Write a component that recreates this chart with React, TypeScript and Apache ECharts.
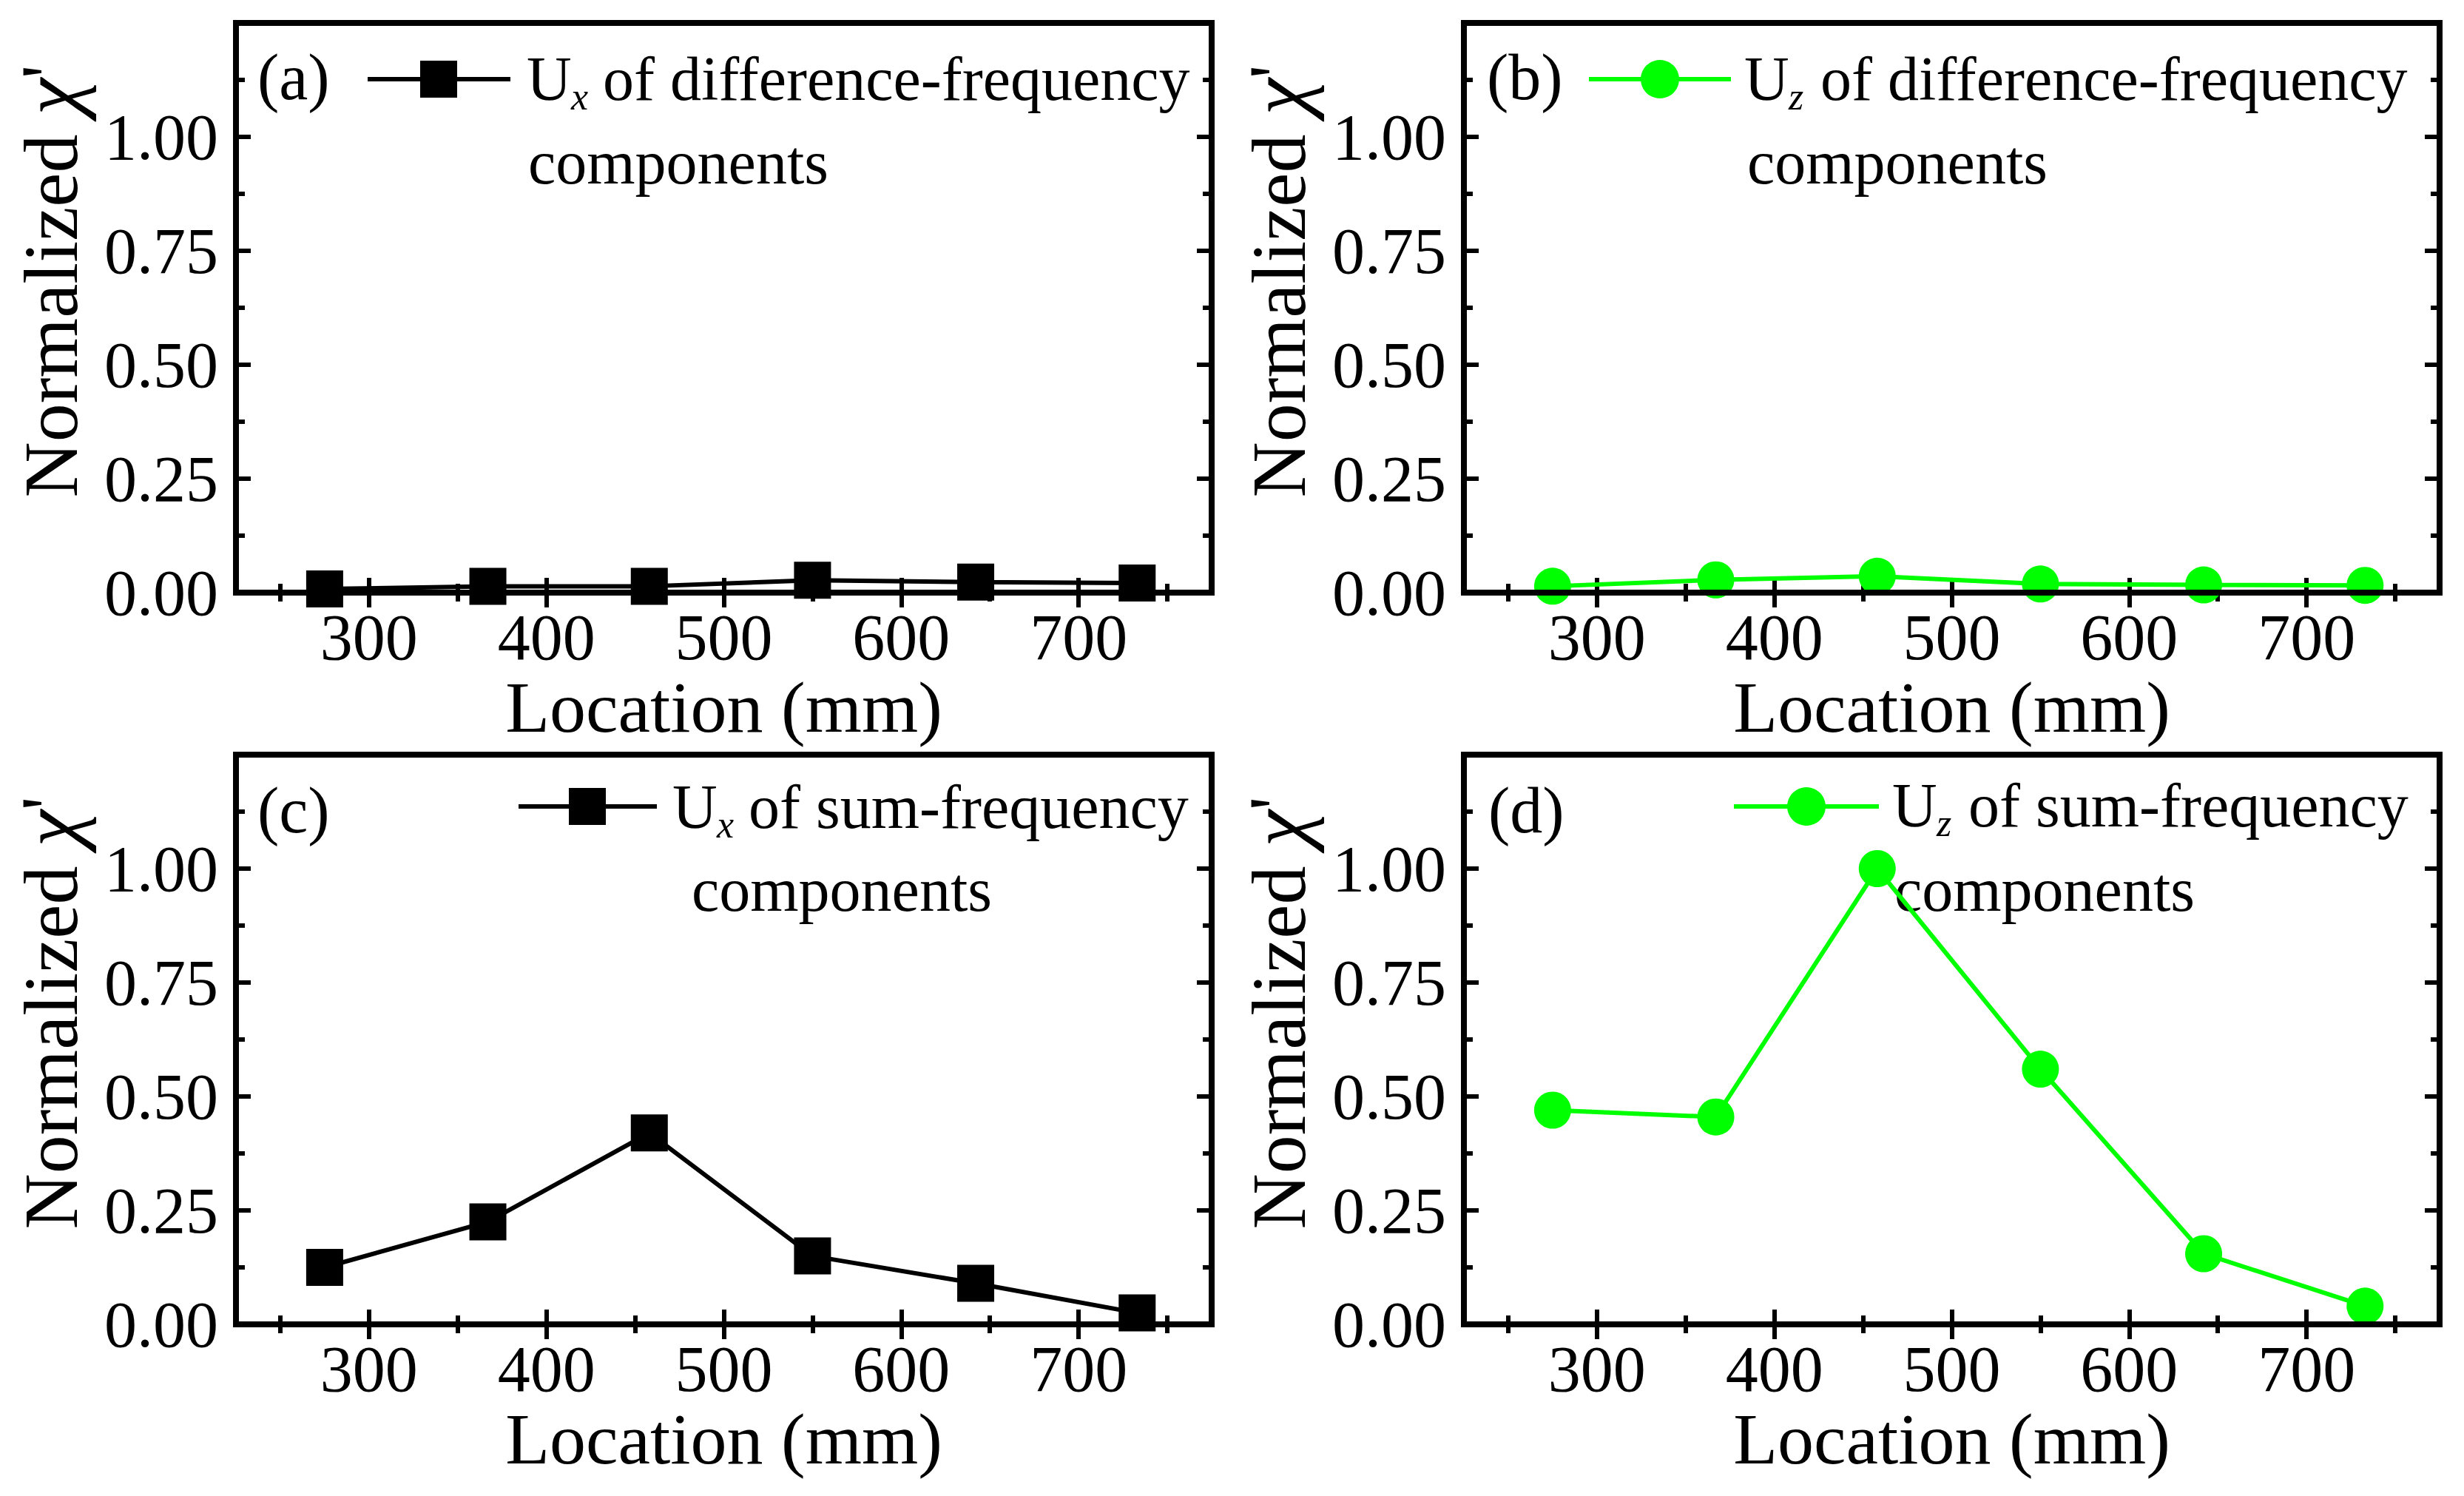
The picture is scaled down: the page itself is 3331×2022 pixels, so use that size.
import React, { useEffect, useRef } from "react";
import * as echarts from "echarts";

// ---- data ----
const locations = [275, 367, 458, 550, 642, 733];
const uxDifference = [0.008, 0.014, 0.014, 0.027, 0.023, 0.021];
const uzDifference = [0.014, 0.028, 0.036, 0.019, 0.017, 0.016];
const uxSum = [0.125, 0.225, 0.42, 0.15, 0.09, 0.025];
const uzSum = [0.47, 0.455, 1.0, 0.56, 0.155, 0.04];

const xMajorTicks = [300, 400, 500, 600, 700];
const xMinorTicks = [250, 350, 450, 550, 650, 750];
const yMajorTicks = [0, 0.25, 0.5, 0.75, 1.0];
const yMinorTicks = [0.125, 0.375, 0.625, 0.875, 1.125];

const panelLetters = ["(a)", "(b)", "(c)", "(d)"];
const componentLetters = ["x", "z", "x", "z"];
const legendRest = [
  " of difference-frequency",
  " of difference-frequency",
  " of sum-frequency",
  " of sum-frequency",
];
const legendSecond = ["components", "components", "components", "components"];
const xAxisTitle = "Location (mm)";

const BLACK = "#000000";
const GREEN = "#00ff00";
const FONT = "Liberation Serif";

const App: React.FC = () => {
  const ref = useRef<HTMLDivElement>(null);

  useEffect(() => {
    if (!ref.current) return;
    const chart = echarts.init(ref.current, undefined, { renderer: "svg" });

    const grids = [
      { left: 319, top: 31 },
      { left: 1979, top: 31 },
      { left: 319, top: 1020 },
      { left: 1979, top: 1020 },
    ];
    const W = 1319;
    const H = 770;
    const seriesData = [uxDifference, uzDifference, uxSum, uzSum];
    const colors = [BLACK, GREEN, BLACK, GREEN];
    const symbols = ["rect", "circle", "rect", "circle"];

    const xAxes: any[] = [];
    const yAxes: any[] = [];
    const series: any[] = [];
    const graphics: any[] = [];

    grids.forEach((g, i) => {
      const base = {
        gridIndex: i,
        type: "value",
        axisLine: { show: false },
        splitLine: { show: false },
        minorTick: { show: false },
      };
      const tickStyle = { color: BLACK, width: 6 };
      ["bottom", "top"].forEach((pos) => {
        xAxes.push({
          ...base,
          position: pos,
          min: 225,
          max: 775,
          axisTick: { show: true, inside: true, length: 20, lineStyle: tickStyle, customValues: xMajorTicks },
          axisLabel:
            pos === "bottom"
              ? {
                  show: true,
                  customValues: xMajorTicks,
                  fontSize: 88,
                  fontFamily: FONT,
                  color: BLACK,
                  margin: 16,
                }
              : { show: false },
          name: pos === "bottom" ? xAxisTitle : "",
          nameLocation: "middle",
          nameGap: 106,
          nameTextStyle: { fontSize: 98, fontFamily: FONT, color: BLACK },
        });
        xAxes.push({
          ...base,
          position: pos,
          min: 225,
          max: 775,
          axisTick: { show: true, inside: true, length: 12, lineStyle: tickStyle, customValues: xMinorTicks },
          axisLabel: { show: false },
        });
      });
      ["left", "right"].forEach((pos) => {
        yAxes.push({
          ...base,
          position: pos,
          min: 0,
          max: 1.25,
          axisTick: { show: true, inside: true, length: 20, lineStyle: tickStyle, customValues: yMajorTicks },
          axisLabel:
            pos === "left"
              ? {
                  show: true,
                  customValues: yMajorTicks,
                  formatter: (v: number) => v.toFixed(2),
                  fontSize: 88,
                  fontFamily: FONT,
                  color: BLACK,
                  margin: 24,
                }
              : { show: false },
        });
        yAxes.push({
          ...base,
          position: pos,
          min: 0,
          max: 1.25,
          axisTick: { show: true, inside: true, length: 12, lineStyle: tickStyle, customValues: yMinorTicks },
          axisLabel: { show: false },
        });
      });

      series.push({
        type: "line",
        xAxisIndex: i * 4,
        yAxisIndex: i * 4,
        data: locations.map((x, j) => [x, seriesData[i][j]]),
        symbol: symbols[i],
        symbolSize: 50,
        showSymbol: true,
        clip: false,
        lineStyle: { color: colors[i], width: 6 },
        itemStyle: { color: colors[i], borderWidth: 0 },
        z: 3,
      });

      const cy = g.top + H / 2 - 36;
      const cx = g.left - 251;
      graphics.push({
        type: "text",
        x: cx,
        y: cy,
        rotation: Math.PI / 2,
        style: {
          text: "{n|Normalized }{c|χ}{p|'}",
          textAlign: "center",
          textVerticalAlign: "middle",
          fill: BLACK,
          rich: {
            n: { fontSize: 104, fontFamily: FONT, fill: BLACK, color: BLACK },
            c: { fontSize: 112, fontFamily: FONT, fontStyle: "italic", fill: BLACK, color: BLACK },
            p: { fontSize: 104, fontFamily: FONT, fill: BLACK, color: BLACK, verticalAlign: "top" },
          },
        },
      });
    });

    const letterPos = [
      [348, 104],
      [2010, 104],
      [348, 1095],
      [2012, 1095],
    ];
    const legendLine = [
      [497, 690, 107],
      [2148, 2340, 107],
      [701, 888, 1090],
      [2344, 2540, 1090],
    ];
    const legendMarkerX = [593, 2244, 794, 2442];
    const legendTextX = [712, 2358, 909, 2558];
    const legendTextY = [106, 106, 1090, 1088];
    const legendSecondX = [714, 2362, 935, 2561];
    const legendSecondY = [219, 219, 1202, 1202];

    for (let i = 0; i < 4; i++) {
      graphics.push({
        type: "text",
        x: letterPos[i][0],
        y: letterPos[i][1],
        style: {
          text: panelLetters[i],
          fontSize: 88,
          fontFamily: FONT,
          fill: BLACK,
          textAlign: "left",
          textVerticalAlign: "middle",
        },
      });
      const [x1, x2, ly] = legendLine[i];
      graphics.push({
        type: "line",
        shape: { x1, y1: ly, x2, y2: ly },
        style: { stroke: colors[i], lineWidth: 6 },
      });
      if (symbols[i] === "rect") {
        graphics.push({
          type: "rect",
          shape: { x: legendMarkerX[i] - 25, y: ly - 25, width: 50, height: 50 },
          style: { fill: colors[i] },
        });
      } else {
        graphics.push({
          type: "circle",
          shape: { cx: legendMarkerX[i], cy: ly, r: 26 },
          style: { fill: colors[i] },
        });
      }
      const tx = legendTextX[i];
      const ty = legendTextY[i];
      graphics.push({
        type: "text",
        x: tx,
        y: ty,
        style: { text: "U", fontSize: 84, fontFamily: FONT, fill: BLACK, textAlign: "left", textVerticalAlign: "middle" },
      });
      graphics.push({
        type: "text",
        x: tx + 60,
        y: ty + 24,
        style: {
          text: componentLetters[i],
          fontSize: 52,
          fontStyle: "italic",
          fontFamily: FONT,
          fill: BLACK,
          textAlign: "left",
          textVerticalAlign: "middle",
        },
      });
      graphics.push({
        type: "text",
        x: tx + 82,
        y: ty,
        style: {
          text: legendRest[i],
          fontSize: 84,
          fontFamily: FONT,
          fill: BLACK,
          textAlign: "left",
          textVerticalAlign: "middle",
        },
      });
      graphics.push({
        type: "text",
        x: legendSecondX[i],
        y: legendSecondY[i],
        style: {
          text: legendSecond[i],
          fontSize: 84,
          fontFamily: FONT,
          fill: BLACK,
          textAlign: "left",
          textVerticalAlign: "middle",
        },
      });
    }

    chart.setOption({
      animation: false,
      backgroundColor: "#ffffff",
      textStyle: { fontFamily: FONT },
      grid: grids.map((g) => ({
        left: g.left,
        top: g.top,
        width: W,
        height: H,
        show: true,
        borderColor: BLACK,
        borderWidth: 8,
        backgroundColor: "transparent",
        containLabel: false,
        z: 10,
      })),
      xAxis: xAxes,
      yAxis: yAxes,
      series,
      graphic: graphics,
    });

    return () => chart.dispose();
  }, []);

  return (
    <div
      ref={ref}
      style={{ position: "fixed", left: 0, top: 0, width: 3331, height: 2022, background: "#fff" }}
    />
  );
};

export default App;
